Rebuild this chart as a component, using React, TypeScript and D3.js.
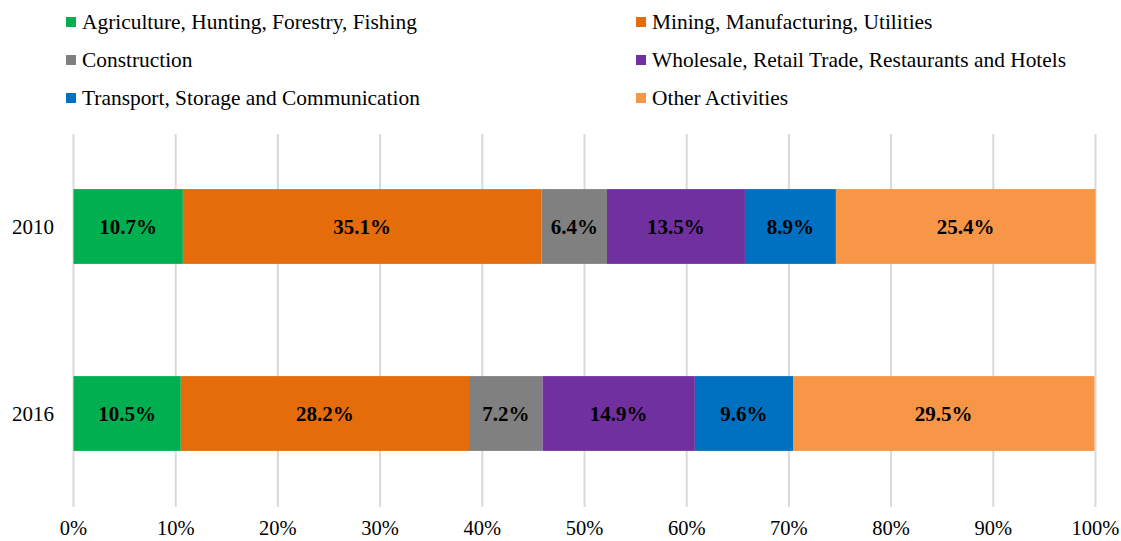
import React from "react";
import * as d3 from "d3";

const years = ["2010", "2016"];
const sectors = [
  "Agriculture, Hunting, Forestry, Fishing",
  "Mining, Manufacturing, Utilities",
  "Construction",
  "Wholesale, Retail Trade, Restaurants and Hotels",
  "Transport, Storage and Communication",
  "Other Activities",
];
const colors = ["#00b050", "#e46c0a", "#808080", "#7030a0", "#0070c0", "#f79646"];
const values2010 = [10.7, 35.1, 6.4, 13.5, 8.9, 25.4];
const values2016 = [10.5, 28.2, 7.2, 14.9, 9.6, 29.5];
const tickValues = [0, 10, 20, 30, 40, 50, 60, 70, 80, 90, 100];

const W = 1121;
const H = 541;
const FONT = "'Liberation Serif', 'Times New Roman', serif";

export default function App() {
  const x = d3.scaleLinear().domain([0, 100]).range([73.5, 1095.5]);
  const y = d3.scaleBand().domain(years).range([133, 507]).paddingInner(0.6).paddingOuter(0.3);
  const rows = [values2010, values2016];

  return (
    <svg width={W} height={H} style={{ position: "absolute", left: 0, top: 0, background: "#fff" }}>
      {/* legend */}
      {sectors.map((s, i) => {
        const col = i % 2;
        const row = Math.floor(i / 2);
        const lx = col === 0 ? 66 : 636;
        const ly = 22 + row * 38;
        return (
          <g key={s}>
            <rect x={lx} y={ly - 5} width={10} height={10} fill={colors[i]} />
            <text x={lx + 16} y={ly} dy="0.35em" fontFamily={FONT} fontSize={21.4} fill="#000">
              {s}
            </text>
          </g>
        );
      })}
      {/* grid */}
      {tickValues.map((t) => (
        <line key={t} x1={x(t)} x2={x(t)} y1={134} y2={507} stroke="#d9d9d9" strokeWidth={2} />
      ))}
      {/* bars */}
      {rows.map((vals, r) => {
        const stack = d3.cumsum(vals);
        return (
          <g key={years[r]}>
            {vals.map((v, i) => {
              const x0 = x(stack[i] - v);
              const x1 = x(stack[i]);
              const yy = y(years[r])!;
              return (
                <g key={i}>
                  <rect x={x0} y={yy} width={x1 - x0} height={y.bandwidth()} fill={colors[i]} />
                  <text
                    x={(x0 + x1) / 2}
                    y={yy + y.bandwidth() / 2}
                    dy="0.35em"
                    textAnchor="middle"
                    fontFamily={FONT}
                    fontSize={21}
                    fontWeight="bold"
                    fill="#000"
                  >
                    {v.toFixed(1)}%
                  </text>
                </g>
              );
            })}
            <text
              x={54}
              y={y(years[r])! + y.bandwidth() / 2}
              dy="0.35em"
              textAnchor="end"
              fontFamily={FONT}
              fontSize={21}
              fill="#000"
            >
              {years[r]}
            </text>
          </g>
        );
      })}
      {/* x axis labels */}
      {tickValues.map((t) => (
        <text key={t} x={x(t)} y={528} dy="0.35em" textAnchor="middle" fontFamily={FONT} fontSize={20.5} fill="#000">
          {t}%
        </text>
      ))}
    </svg>
  );
}
